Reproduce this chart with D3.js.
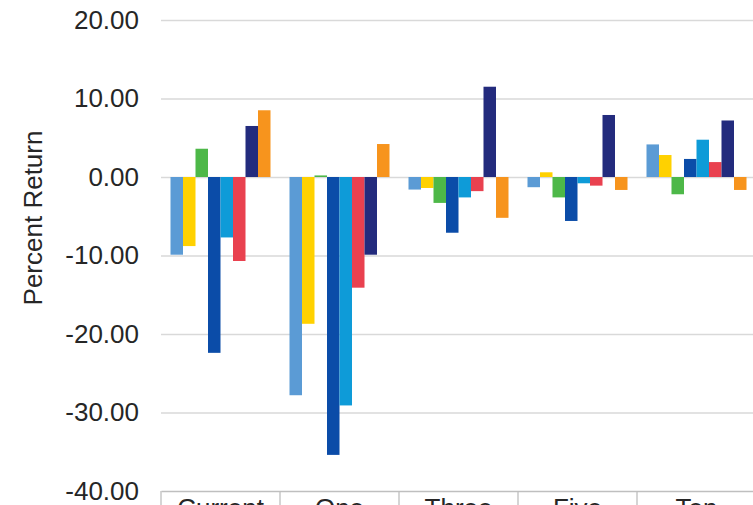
<!DOCTYPE html>
<html>
<head>
<meta charset="utf-8">
<script src="https://cdn.jsdelivr.net/npm/d3@7"></script>
<style>
  html, body { margin: 0; padding: 0; background: #fff; overflow: hidden; }
  text { font-family: "Liberation Sans", Arial, sans-serif; fill: #262626; }
</style>
</head>
<body>
<div id="chart"></div>
<script>
// periods shown on the x axis
var categories = ["Current", "One", "Three", "Five", "Ten"];
var seriesNames = ["s1", "s2", "s3", "s4", "s5", "s6", "s7", "s8"];
var seriesColors = ["#5b9bd5", "#ffd100", "#4db848", "#0b4ca8", "#0e9bd8", "#e9414f", "#232b7d", "#f7941d"];

// percent return per series, one value per category
var s1 = [-9.9, -27.8, -1.6, -1.3, 4.15];
var s2 = [-8.8, -18.7, -1.4, 0.6, 2.8];
var s3 = [3.6, 0.2, -3.3, -2.6, -2.2];
var s4 = [-22.4, -35.4, -7.1, -5.6, 2.3];
var s5 = [-7.7, -29.1, -2.6, -0.8, 4.75];
var s6 = [-10.7, -14.1, -1.8, -1.1, 1.9];
var s7 = [6.5, -9.9, 11.5, 7.9, 7.2];
var s8 = [8.5, 4.2, -5.2, -1.65, -1.65];

var yTicks = [20, 10, 0, -10, -20, -30, -40];

var W = 753, H = 505;
var plotLeft = 161, plotTop = 20, plotBottom = 491;

var svg = d3.select("#chart").append("svg")
    .attr("width", W).attr("height", H)
    .attr("xmlns", "http://www.w3.org/2000/svg");

var allSeries = [s1, s2, s3, s4, s5, s6, s7, s8];

// plain hyphen for negatives, like the original
var fmt = d3.formatLocale({decimal: ".", thousands: ",", grouping: [3], currency: ["$", ""], minus: "-"}).format(".2f");

var x0 = d3.scaleBand().domain(categories).range([plotLeft, plotLeft + 119 * 5]).padding(0);
var x1 = d3.scaleBand().domain(seriesNames).range([0, x0.bandwidth()])
    .paddingInner(0).paddingOuter(0.76);
var y = d3.scaleLinear().domain([-40, 20]).range([plotBottom, plotTop]);
var color = d3.scaleOrdinal().domain(seriesNames).range(seriesColors);

// gridlines
svg.append("g")
    .attr("transform", "translate(" + plotLeft + ",0)")
    .call(d3.axisLeft(y).tickValues(yTicks.filter(function(d){ return d > -40; }))
        .tickSize(-(W - plotLeft)).tickFormat(""))
    .call(function(g){
        g.select(".domain").remove();
        g.selectAll("line").attr("stroke", "#d9d9d9").attr("stroke-width", 1.3);
    });

// tick labels
svg.append("g")
    .attr("transform", "translate(139,0)")
    .call(d3.axisLeft(y).tickValues(yTicks).tickSize(0).tickPadding(0).tickFormat(fmt))
    .call(function(g){
        g.select(".domain").remove();
        g.selectAll("text").style("font-size", "26px")
            .attr("font-family", "Liberation Sans, Arial, sans-serif").attr("fill", "#262626");
    });

// bars
var rows = [];
categories.forEach(function(c, i){
    seriesNames.forEach(function(s, j){
        rows.push({cat: c, ser: s, val: allSeries[j][i]});
    });
});

svg.append("g").selectAll("rect")
    .data(rows)
    .enter().append("rect")
    .attr("x", function(d){ return x0(d.cat) + x1(d.ser); })
    .attr("width", x1.bandwidth())
    .attr("y", function(d){ return y(Math.max(0, d.val)); })
    .attr("height", function(d){ return Math.abs(y(d.val) - y(0)); })
    .attr("fill", function(d){ return color(d.ser); });

// category axis
var xAxis = svg.append("g")
    .attr("transform", "translate(0," + plotBottom + ")")
    .call(d3.axisBottom(x0).tickSize(0).tickPadding(8))
    .call(function(g){
        g.select(".domain").attr("stroke", "#bfbfbf").attr("stroke-width", 1.3);
        g.selectAll("text").style("font-size", "26px")
            .attr("font-family", "Liberation Sans, Arial, sans-serif").attr("fill", "#262626");
    });

// separators between categories
xAxis.selectAll("line.sep")
    .data(categories.concat(["end"]))
    .enter().append("line")
    .attr("class", "sep")
    .attr("x1", function(d, i){ return plotLeft + i * x0.step(); })
    .attr("x2", function(d, i){ return plotLeft + i * x0.step(); })
    .attr("y1", 0).attr("y2", 30)
    .attr("stroke", "#bfbfbf").attr("stroke-width", 1.3);

// y axis title
svg.append("text")
    .attr("transform", "translate(42,218) rotate(-90)")
    .attr("text-anchor", "middle")
    .style("font-size", "26px")
    .text("Percent Return");
</script>
</body>
</html>
